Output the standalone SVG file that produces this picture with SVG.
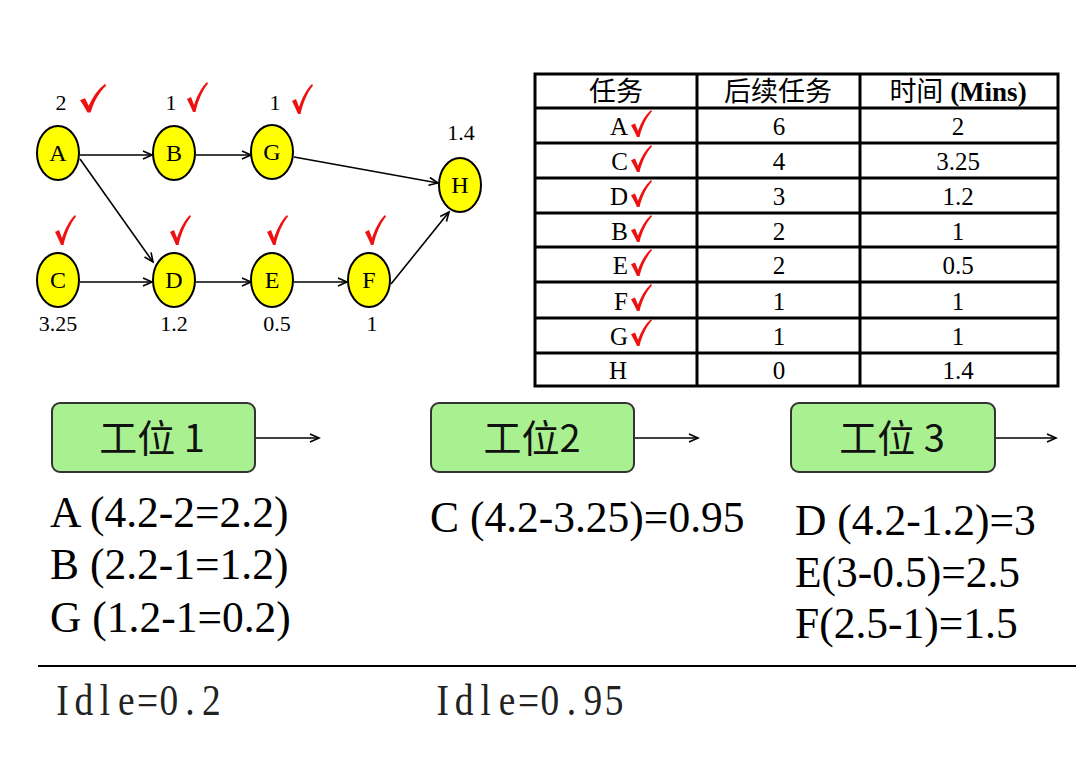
<svg xmlns="http://www.w3.org/2000/svg" width="1080" height="764" viewBox="0 0 1080 764">
<style>
.node ellipse{fill:#ffff00;stroke:#000;stroke-width:2}
.nl{font-family:"Liberation Serif",serif;font-size:22px;text-anchor:middle;fill:#000}
.nn{font-family:"Liberation Serif",serif;font-size:24px;text-anchor:middle;fill:#000}
.cn{font-family:"Liberation Serif","Noto Sans CJK SC",serif;font-size:25px;text-anchor:middle;fill:#000}
.hd{font-family:"Liberation Serif","Noto Sans CJK SC",serif;font-size:27px;text-anchor:middle;fill:#000}
.ce{font-family:"Liberation Serif",serif;font-size:25px;text-anchor:end;fill:#000}
.edge{stroke:#000;stroke-width:1.6;fill:none;marker-end:url(#arr)}
.box rect{fill:#a8f090;stroke:#333;stroke-width:2}
.bt{font-family:"Noto Sans CJK SC",sans-serif;font-size:38px;text-anchor:middle;fill:#111}
.big{font-family:"Liberation Serif",serif;font-size:43.5px;fill:#000}
.idle{font-family:"Liberation Serif",serif;font-size:44px;fill:#222;text-anchor:middle}
.tl{stroke:#000;stroke-width:3}
</style>
<defs>
<marker id="arr" markerWidth="12" markerHeight="10" refX="10" refY="5" orient="auto" markerUnits="userSpaceOnUse">
<path d="M1,1 L10,5 L1,9" fill="none" stroke="#000" stroke-width="1.6"/>
</marker>
<path id="chk" d="M0,17 L4,15 L7,23 C10,14 14,6 20,0 L21,1.5 C15,9 11,19 8.5,30 L6,30 C4,25 2,21 0,17 Z" fill="#ee1111"/>
</defs>
<rect width="1080" height="764" fill="#fff"/>

<g id="connectors">
<line class="edge" x1="80" y1="155" x2="152" y2="155"/>
<line class="edge" x1="80" y1="159" x2="153" y2="262"/>
<line class="edge" x1="196" y1="155" x2="251" y2="155"/>
<line class="edge" x1="294" y1="157" x2="438" y2="183"/>
<line class="edge" x1="80" y1="282" x2="152" y2="282"/>
<line class="edge" x1="196" y1="282" x2="251" y2="282"/>
<line class="edge" x1="294" y1="282" x2="347" y2="282"/>
<line class="edge" x1="391" y1="284" x2="449" y2="212"/>
<line class="edge" x1="256" y1="438" x2="319" y2="438"/>
<line class="edge" x1="635" y1="438" x2="698" y2="438"/>
<line class="edge" x1="995" y1="438" x2="1056" y2="438"/>
</g>

<g id="node-A" class="node"><ellipse cx="58" cy="153" rx="21" ry="27"/><text class="nn" x="58" y="161">A</text><text class="nl" x="61" y="110">2</text><use href="#chk" transform="translate(80,84) scale(1.25,0.95)"/></g>
<g id="node-B" class="node"><ellipse cx="174" cy="153" rx="21" ry="27"/><text class="nn" x="174" y="161">B</text><text class="nl" x="171" y="110">1</text><use href="#chk" transform="translate(187,82)"/></g>
<g id="node-G" class="node"><ellipse cx="272" cy="152" rx="21" ry="27"/><text class="nn" x="272" y="160">G</text><text class="nl" x="275" y="110">1</text><use href="#chk" transform="translate(292,84)"/></g>
<g id="node-H" class="node"><ellipse cx="460" cy="185" rx="21" ry="27"/><text class="nn" x="460" y="193">H</text><text class="nl" x="461" y="140">1.4</text></g>
<g id="node-C" class="node"><ellipse cx="58" cy="280" rx="21" ry="27"/><text class="nn" x="58" y="288">C</text><text class="nl" x="58" y="331">3.25</text><use href="#chk" transform="translate(55,215)"/></g>
<g id="node-D" class="node"><ellipse cx="174" cy="280" rx="21" ry="27"/><text class="nn" x="174" y="288">D</text><text class="nl" x="174" y="331">1.2</text><use href="#chk" transform="translate(170,215)"/></g>
<g id="node-E" class="node"><ellipse cx="272" cy="280" rx="21" ry="27"/><text class="nn" x="272" y="288">E</text><text class="nl" x="277" y="331">0.5</text><use href="#chk" transform="translate(267,215)"/></g>
<g id="node-F" class="node"><ellipse cx="369" cy="280" rx="21" ry="27"/><text class="nn" x="369" y="288">F</text><text class="nl" x="372" y="331">1</text><use href="#chk" transform="translate(365,215)"/></g>

<g id="table">
<rect x="535" y="74" width="523" height="312" fill="#fff" stroke="#000" stroke-width="3"/>
<line class="tl" x1="697" y1="74" x2="697" y2="386"/>
<line class="tl" x1="860" y1="74" x2="860" y2="386"/>
<line class="tl" x1="535" y1="108" x2="1058" y2="108"/>
<line class="tl" x1="535" y1="143" x2="1058" y2="143"/>
<line class="tl" x1="535" y1="178" x2="1058" y2="178"/>
<line class="tl" x1="535" y1="213" x2="1058" y2="213"/>
<line class="tl" x1="535" y1="247" x2="1058" y2="247"/>
<line class="tl" x1="535" y1="282" x2="1058" y2="282"/>
<line class="tl" x1="535" y1="318" x2="1058" y2="318"/>
<line class="tl" x1="535" y1="353" x2="1058" y2="353"/>
<text class="hd" x="616" y="101">任务</text>
<text class="hd" x="778" y="101">后续任务</text>
<text class="hd" x="958" y="101">时间 <tspan font-weight="bold">(Mins)</tspan></text>
<text class="ce" x="628" y="135">A</text>
<text class="ce" x="628" y="170">C</text>
<text class="ce" x="628" y="205">D</text>
<text class="ce" x="628" y="240">B</text>
<text class="ce" x="628" y="274">E</text>
<text class="ce" x="628" y="310">F</text>
<text class="ce" x="628" y="345">G</text>
<text class="cn" x="618" y="379">H</text>
<use href="#chk" transform="translate(631,110) scale(1,0.9)"/>
<use href="#chk" transform="translate(631,145) scale(1,0.9)"/>
<use href="#chk" transform="translate(631,180) scale(1,0.9)"/>
<use href="#chk" transform="translate(631,215) scale(1,0.9)"/>
<use href="#chk" transform="translate(631,249) scale(1,0.9)"/>
<use href="#chk" transform="translate(631,284) scale(1,0.9)"/>
<use href="#chk" transform="translate(631,319) scale(1,0.9)"/>
<text class="cn" x="779" y="135">6</text>
<text class="cn" x="779" y="170">4</text>
<text class="cn" x="779" y="205">3</text>
<text class="cn" x="779" y="240">2</text>
<text class="cn" x="779" y="274">2</text>
<text class="cn" x="779" y="310">1</text>
<text class="cn" x="779" y="345">1</text>
<text class="cn" x="779" y="379">0</text>
<text class="cn" x="958" y="135">2</text>
<text class="cn" x="958" y="170">3.25</text>
<text class="cn" x="958" y="205">1.2</text>
<text class="cn" x="958" y="240">1</text>
<text class="cn" x="958" y="274">0.5</text>
<text class="cn" x="958" y="310">1</text>
<text class="cn" x="958" y="345">1</text>
<text class="cn" x="958" y="379">1.4</text>
</g>

<g id="station-1" class="box"><rect x="52" y="403" width="203" height="69" rx="8"/><text class="bt" x="152" y="452">工位 1</text></g>
<g id="station-2" class="box"><rect x="431" y="403" width="203" height="69" rx="8"/><text class="bt" x="532" y="452">工位2</text></g>
<g id="station-3" class="box"><rect x="791" y="403" width="204" height="69" rx="8"/><text class="bt" x="892" y="452">工位 3</text></g>

<g id="texts">
<text class="big" x="50" y="527">A (4.2-2=2.2)</text>
<text class="big" x="50" y="579">B (2.2-1=1.2)</text>
<text class="big" x="50" y="632">G (1.2-1=0.2)</text>
<text class="big" x="430" y="532">C (4.2-3.25)=0.95</text>
<text class="big" x="795" y="535">D (4.2-1.2)=3</text>
<text class="big" x="795" y="587">E(3-0.5)=2.5</text>
<text class="big" x="795" y="638">F(2.5-1)=1.5</text>
<line x1="38" y1="666" x2="1076" y2="666" stroke="#000" stroke-width="2"/>
<g transform="scale(0.85,1)">
<text class="idle" x="73.6 98.7 123.6 148.7 173.6 198.7 223.6 248.7" y="715">Idle=0.2</text>
<text class="idle" x="520.8 546.1 571.3 596.5 621.8 646.9 672.2 697.4 722.6" y="715">Idle=0.95</text>
</g>
</g>
</svg>
